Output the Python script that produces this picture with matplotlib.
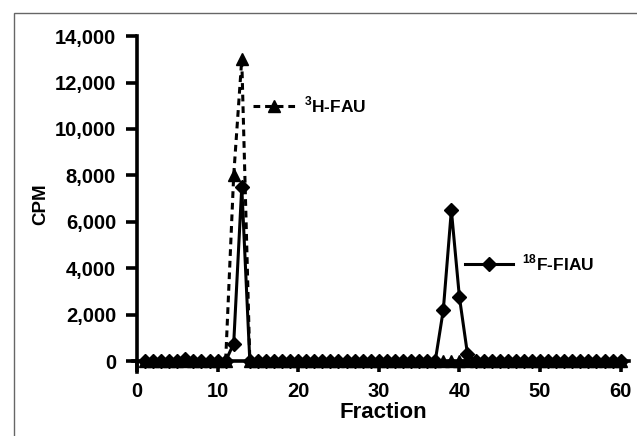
import matplotlib
matplotlib.use("Agg")
from matplotlib import pyplot as plt
from matplotlib.patches import Rectangle
from matplotlib.ticker import FuncFormatter

plt.rcParams['font.family'] = ['Liberation Sans', 'DejaVu Sans']
plt.rcParams['font.weight'] = 'bold'
plt.rcParams['mathtext.fontset'] = 'custom'
plt.rcParams['mathtext.rm'] = 'Liberation Sans:bold'
plt.rcParams['mathtext.bf'] = 'Liberation Sans:bold'

fractions = list(range(1, 61))

# 3H-FAU counts (dashed, triangles)
h3_fau = [0] * 60
h3_fau[11] = 8000
h3_fau[12] = 13000

# 18F-FIAU counts (solid, diamonds)
f18_fiau = [0] * 60
f18_fiau[5] = 100
f18_fiau[11] = 750
f18_fiau[12] = 7500
f18_fiau[37] = 2200
f18_fiau[38] = 6500
f18_fiau[39] = 2750
f18_fiau[40] = 300

y_ticks = [0, 2000, 4000, 6000, 8000, 10000, 12000, 14000]
x_ticks = [0, 10, 20, 30, 40, 50, 60]

fig = plt.figure(figsize=(6.37, 4.36), dpi=100)
ax = fig.add_axes([0.215, 0.147, 0.772, 0.770])

# gray frame round the figure (left and top edges visible)
fig.patches.append(Rectangle((14 / 637, -0.5), 2.0, 0.5 + (436 - 13) / 436,
                             transform=fig.transFigure, fill=False,
                             edgecolor='#666666', linewidth=1.0))

lw = 2.2
h_line, = ax.plot(fractions, h3_fau, color='black', linestyle=(0, (2.2, 1.6)),
                  linewidth=lw, marker='^', markersize=8.5, clip_on=False, zorder=3)
f_line, = ax.plot(fractions, f18_fiau, color='black', linestyle='-',
                  linewidth=lw, marker='D', markersize=7.5, clip_on=False, zorder=4)

ax.set_xlim(0, 61)
ax.set_ylim(-470, 14000)
ax.set_xticks(x_ticks)
ax.set_yticks(y_ticks)
ax.yaxis.set_major_formatter(FuncFormatter(lambda v, p: f"{int(v):,}"))

ax.spines['top'].set_visible(False)
ax.spines['right'].set_visible(False)
ax.spines['bottom'].set_position(('data', 0))
ax.spines['bottom'].set_bounds(-0.5, 61)
for s in ('left', 'bottom'):
    ax.spines[s].set_linewidth(2.6)
ax.tick_params(axis='both', which='major', length=8, width=2.6,
               labelsize=14.5, direction='out')
ax.tick_params(axis='y', pad=7)
ax.tick_params(axis='x', pad=7)
for lab in ax.get_xticklabels() + ax.get_yticklabels():
    lab.set_fontweight('bold')

ax.set_xlabel("Fraction", fontsize=16, fontweight='bold', labelpad=1)
ax.set_ylabel("CPM", fontsize=13.5, fontweight='bold', labelpad=4)

leg1 = ax.legend([h_line], [r"$^{3}$H-FAU"], loc='center left',
                 bbox_to_anchor=(0.205, 0.795), frameon=False, handlelength=2.4,
                 handletextpad=0.5, prop={'weight': 'bold', 'size': 12.5})
ax.add_artist(leg1)
ax.legend([f_line], [r"$^{18}$F-FIAU"], loc='center left',
          bbox_to_anchor=(0.635, 0.325), frameon=False, handlelength=2.8,
          handletextpad=0.5, prop={'weight': 'bold', 'size': 12.5})

fig.savefig("out.png", dpi=100)
